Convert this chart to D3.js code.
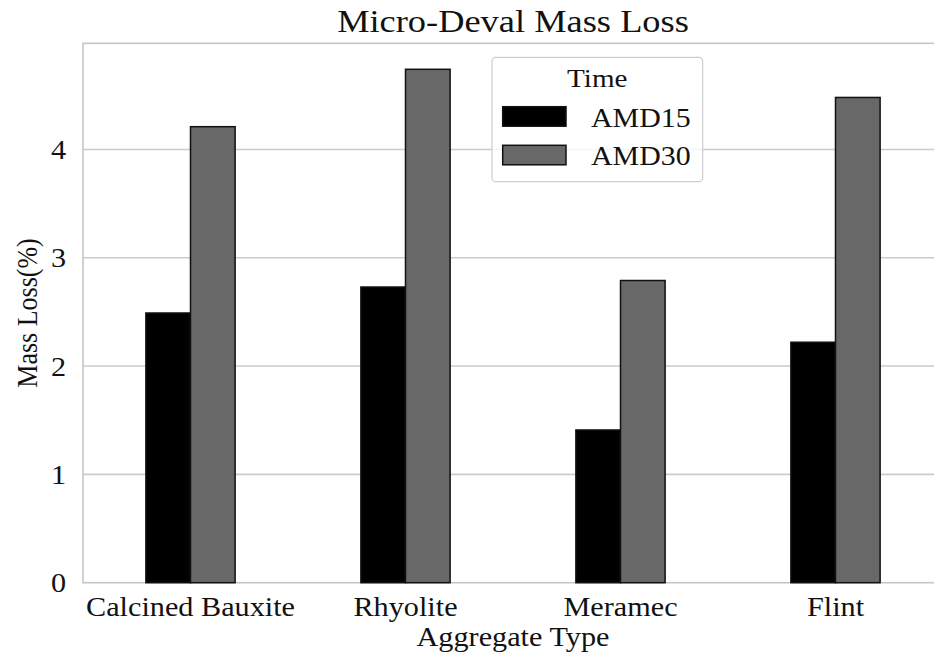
<!DOCTYPE html>
<html>
<head>
	<meta charset="utf-8">
	<title> Micro-Deval Mass Loss </title>
	<script src="https://d3js.org/d3.v7.min.js"></script>
	<style>
		body { margin: 0; background: #fff; }
		text { font-family: "Liberation Serif", "Times New Roman", serif; fill: #111; }
	</style>
</head>
<body>
	<svg width="934" height="656"></svg>
	<script type="text/javascript">
		// data
		let categories = ["Calcined Bauxite", "Rhyolite", "Meramec", "Flint"];
		let seriesNames = ["AMD15", "AMD30"];
		let amd15 = [2.49, 2.73, 1.41, 2.22];
		let amd30 = [4.21, 4.74, 2.79, 4.48];
		let yTicks = [0, 1, 2, 3, 4];
		let colorSet = ["#000000", "#686868"];

		const sx = 1.12; // the source picture is stretched sideways
		let svg = d3.select("svg");
		let plotLeft = 83, plotRight = 943, plotTop = 43.3, plotBottom = 582.7;

		let x0 = d3.scaleBand().domain(categories).range([plotLeft, plotRight])
			.paddingInner(0.585).paddingOuter(0.2925);
		let x1 = d3.scaleBand().domain(seriesNames).range([0, x0.bandwidth()]);
		let y = d3.scaleLinear().domain([0, 4.98]).range([plotBottom, plotTop]);

		// grid
		svg.append("g").selectAll("line").data(yTicks.slice(1)).join("line")
			.attr("x1", plotLeft).attr("x2", plotRight)
			.attr("y1", d => y(d)).attr("y2", d => y(d))
			.attr("stroke", "#cbcbcb").attr("stroke-width", 1.6);

		// frame
		svg.append("rect").attr("x", plotLeft).attr("y", plotTop)
			.attr("width", plotRight - plotLeft).attr("height", plotBottom - plotTop)
			.attr("fill", "none").attr("stroke", "#c6c6c6").attr("stroke-width", 1.6);

		// bars
		let rows = categories.map((c, i) => ({ cat: c, vals: [amd15[i], amd30[i]] }));
		let groups = svg.append("g").selectAll("g").data(rows).join("g")
			.attr("transform", d => "translate(" + x0(d.cat) + ",0)");
		groups.selectAll("rect").data(d => d.vals.map((v, k) => ({ k: k, v: v }))).join("rect")
			.attr("x", d => x1(seriesNames[d.k]))
			.attr("y", d => y(d.v))
			.attr("width", x1.bandwidth())
			.attr("height", d => y(0) - y(d.v))
			.attr("fill", d => colorSet[d.k])
			.attr("stroke", "#111")
			.attr("stroke-width", 1.5);

		// y tick labels
		svg.append("g").selectAll("text").data(yTicks).join("text")
			.attr("transform", d => "translate(66," + (y(d) + 9.5) + ") scale(" + sx + ",1)")
			.attr("text-anchor", "end")
			.style("font-size", "27px")
			.text(d => d);

		// x tick labels
		svg.append("g").selectAll("text").data(categories).join("text")
			.attr("transform", d => "translate(" + (x0(d) + x0.bandwidth() / 2) + ",616) scale(" + sx + ",1)")
			.attr("text-anchor", "middle")
			.style("font-size", "27px")
			.text(d => d);

		// axis titles
		svg.append("text")
			.attr("transform", "translate(" + ((plotLeft + plotRight) / 2) + ",646) scale(" + sx + ",1)")
			.attr("text-anchor", "middle").style("font-size", "27px")
			.text("Aggregate Type");
		svg.append("text")
			.attr("transform", "translate(37," + ((plotTop + plotBottom) / 2) + ") scale(" + sx + ",1) rotate(-90)")
			.attr("text-anchor", "middle").style("font-size", "26px")
			.text("Mass Loss(%)");
		svg.append("text")
			.attr("transform", "translate(" + ((plotLeft + plotRight) / 2) + ",32) scale(" + sx + ",1)")
			.attr("text-anchor", "middle").style("font-size", "32.5px")
			.text("Micro-Deval Mass Loss");

		// legend
		let lg = svg.append("g");
		lg.append("rect").attr("x", 492).attr("y", 57.3).attr("width", 210.7).attr("height", 124.4)
			.attr("rx", 4).attr("fill", "#fff").attr("fill-opacity", 0.8)
			.attr("stroke", "#cdcdcd").attr("stroke-width", 1.2);
		lg.append("text")
			.attr("transform", "translate(597.3,87) scale(" + sx + ",1)")
			.attr("text-anchor", "middle").style("font-size", "26px")
			.text("Time");
		let items = lg.selectAll("g.item").data(seriesNames).join("g")
			.attr("transform", (d, i) => "translate(0," + (106.7 + i * 38.6) + ")");
		items.append("rect").attr("x", 502.7).attr("y", 0).attr("width", 63.3).attr("height", 19.5)
			.attr("fill", (d, i) => colorSet[i]).attr("stroke", "#111").attr("stroke-width", 1.5);
		items.append("text")
			.attr("transform", "translate(591,19.8) scale(" + sx + ",1)")
			.style("font-size", "26.7px")
			.text(d => d);
	</script>
</body>
</html>
